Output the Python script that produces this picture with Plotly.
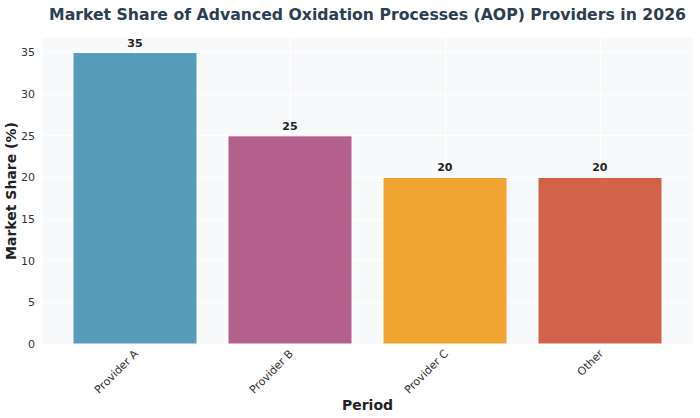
import plotly.graph_objects as go

providers = ['Provider A', 'Provider B', 'Provider C', 'Other']
market_share = [35, 25, 20, 20]
bar_colors = ['#2E86AB', '#A23B72', '#F18F01', '#C73E1D']

fig = go.Figure()

fig.add_trace(go.Bar(
    x=providers,
    y=market_share,
    marker={
        'color': bar_colors,
        'opacity': 0.8,
        'line': {'width': 1, 'color': 'white'},
    },
    text=[str(v) for v in market_share],
    textposition='outside',
    textfont={'family': 'DejaVu Sans', 'size': 11, 'color': '#222222', 'weight': 'bold'},
    cliponaxis=False,
    showlegend=False,
))

fig.update_layout(
    width=700,
    height=418,
    margin={'l': 42, 'r': 7, 't': 38, 'b': 74, 'autoexpand': False},
    title={
        'text': '<b>Market Share of Advanced Oxidation Processes (AOP) Providers in 2026</b>',
        'x': 0.5,
        'xref': 'paper',
        'xanchor': 'center',
        'y': 0.966,
        'yref': 'container',
        'yanchor': 'middle',
        'font': {'family': 'DejaVu Sans', 'size': 15.7, 'color': '#2C3E50'},
    },
    paper_bgcolor='white',
    plot_bgcolor='#F8F9FA',
    bargap=0.2,
    font={'family': 'DejaVu Sans', 'size': 11, 'color': '#333333'},
)

fig.update_xaxes(
    title={'text': '<b>Period</b>', 'font': {'size': 14, 'color': '#222222'}, 'standoff': 4},
    automargin=False,
    range=[-0.6, 3.6],
    tickangle=-45,
    tickfont={'size': 11, 'color': '#333333'},
    showgrid=True,
    gridcolor='white',
    gridwidth=1,
    zeroline=False,
)
fig.update_yaxes(
    title={'text': '<b>Market Share (%)</b>', 'font': {'size': 14, 'color': '#222222'}, 'standoff': 1},
    automargin=False,
    range=[0, 36.75],
    dtick=5,
    ticklabelstandoff=6,
    tickfont={'size': 11, 'color': '#333333'},
    showgrid=True,
    gridcolor='white',
    gridwidth=1,
    zeroline=False,
)

# drop the default 8px body margin so the figure fills the window exactly
fig.write_html(
    'out.html',
    config={'displayModeBar': False},
    post_script="document.body.style.margin = '0';",
)
